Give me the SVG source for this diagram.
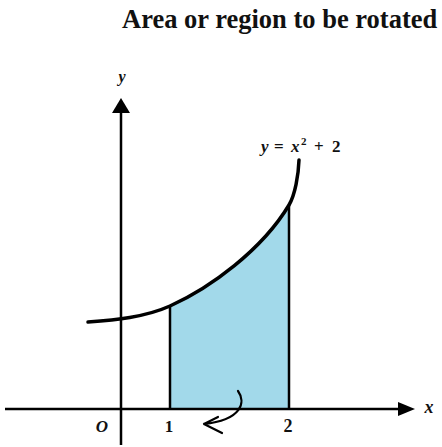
<svg xmlns="http://www.w3.org/2000/svg" width="442" height="447" viewBox="0 0 442 447">
<style>
.t{font-family:"Liberation Serif","Times New Roman",serif;font-weight:bold;fill:#111}
.i{font-style:italic}
.ax{stroke:#000;stroke-width:2.5;fill:none}
.ln{stroke:#000;stroke-width:2.5;fill:none}
</style>
<rect width="442" height="447" fill="#fff"/>
<text class="t" x="122" y="28" font-size="26.5">Area or region to be rotated</text>
<g id="region">
<path d="M170,306 C210,288 262,250 289,205 L289,409 L170,409 Z" fill="#a2d9ea"/>
</g>
<g id="connectors">
<line class="ax" x1="5" y1="409" x2="398" y2="409"/>
<path d="M398,402 L415,409 L398,416 Z" fill="#000"/>
<line class="ax" x1="121" y1="445" x2="121" y2="113"/>
<path d="M112,113 L121,98 L130,113 Z" fill="#000"/>
<line class="ln" x1="170" y1="306" x2="170" y2="409"/>
<line class="ln" x1="289" y1="205" x2="289" y2="409"/>
<path d="M88,322 C115,320 145,317.25 170,306 C210,288 262,250 289,205 C295,195 298.5,175 299,160" stroke="#000" stroke-width="3.5" fill="none" stroke-linecap="round"/>
<path d="M238,391 C246,402 242,420 204,424 M204,424 L218,417 M204,424 L222,433" stroke="#000" stroke-width="2.2" fill="none" stroke-linecap="round"/>
</g>
<g id="labels">
<text class="t i" x="122" y="82" font-size="16" text-anchor="middle">y</text>
<text class="t i" x="429" y="413" font-size="18" text-anchor="middle">x</text>
<text class="t i" x="102" y="432" font-size="17" text-anchor="middle">O</text>
<text class="t" x="169" y="432" font-size="17" text-anchor="middle">1</text>
<text class="t" x="288" y="432" font-size="18" text-anchor="middle">2</text>
<text class="t" y="152" font-size="17"><tspan class="i" x="261">y</tspan><tspan x="274">=</tspan><tspan class="i" x="291">x</tspan><tspan font-size="11" x="301" y="145">2</tspan><tspan x="314" y="152">+</tspan><tspan x="332">2</tspan></text>
</g>
</svg>
